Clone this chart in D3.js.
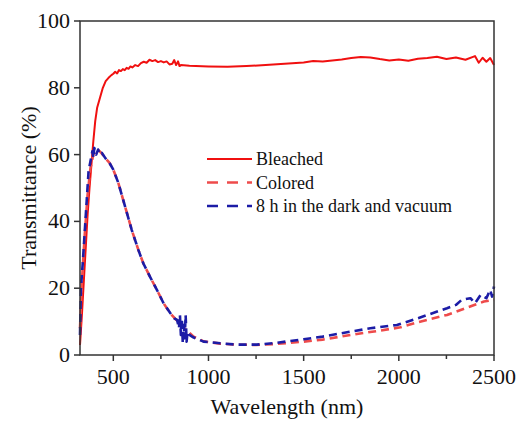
<!DOCTYPE html>
<html>
<head>
<meta charset="UTF-8">
<script src="https://cdn.jsdelivr.net/npm/d3@7"></script>
</head>
<body style="margin:0">
<script>
// wavelength (nm) / transmittance (%)
var bleachedW = [325,335,345,355,365,375,385,395,405,415,430,445,460,475,490,500,510,520,530,540,550,560,570,580,590,600,615,630,645,660,675,690,705,720,735,750,765,780,795,810,820,830,840,848,855,900,1000,1100,1200,1300,1400,1500,1550,1600,1650,1700,1750,1800,1850,1900,1950,2000,2050,2100,2150,2200,2250,2300,2350,2400,2420,2440,2460,2480,2500];
var bleachedT = [3,12,22,32,42,50,57,64,70,74,77,80,82,83,83.8,84.2,84.8,84.3,85.3,85,85.6,85.3,86,85.7,86.4,86.1,86.8,86.5,87.4,87.8,87.5,88.4,88,88.3,87.7,88,87.6,87.9,87,87.2,88.3,86.8,87.9,86.5,86.8,86.6,86.4,86.3,86.5,86.8,87.2,87.6,88,87.9,88.2,88.5,88.9,89.2,89.1,88.6,88.2,88.5,88.1,88.7,88.9,89.3,88.6,89.1,88.4,89.5,87.5,89,87.8,88.9,86.8];

var coloredW = [325,335,350,365,380,395,410,425,440,460,480,500,527,562,597,632,658,693,729,764,799,834,869,922,974,1062,1150,1250,1350,1500,1600,1746,1900,2009,2100,2253,2350,2447,2500];
var coloredT = [8,22,36,48,56,60,61.5,61.2,60.3,58.8,57.5,55.5,51.4,44.4,37.4,31.4,27.4,23.4,19.5,15.5,12.5,10.3,8.2,5.5,4.1,3.4,3.1,3.0,3.3,4,4.6,6,7.3,8.3,9.8,12,14,16,16.5];

var darkW = [325,330,340,350,360,370,380,390,395,400,410,420,430,440,460,480,500,527,562,597,632,658,693,729,764,800,820,835,845,850,855,860,865,870,875,880,885,890,900,920,974,1062,1150,1254,1350,1500,1600,1746,1850,1990,2100,2253,2300,2330,2376,2400,2430,2460,2480,2490,2500];
var darkT = [6,20,28,37,46,55,58,61,59,62,60,61.5,60,60.5,58.8,57.5,55.5,51.4,44.4,37.4,31.4,27.4,23.4,19.5,15.5,12.5,11,10.5,8,12,6,11,3.5,9,5,12,4,7,6,5.3,4,3.5,3.1,3.1,3.6,4.7,5.5,7,8,9,11,14,15,16.5,17,15.5,18,17,19.5,17.5,20.5];

var xTicks = [500, 1000, 1500, 2000, 2500];
var xMinor = [750, 1250, 1750, 2250];
var yTicks = [0, 20, 40, 60, 80, 100];

var legendLabels = ["Bleached", "Colored", "8 h in the dark and vacuum"];

var w = 523, h = 424;
var margin = {left: 80, right: 29, top: 21, bottom: 69};
var font = "Liberation Serif";

var svg = d3.select("body").append("svg")
    .attr("width", w)
    .attr("height", h);

var x = d3.scaleLinear().domain([325, 2500]).range([margin.left, w - margin.right]);
var y = d3.scaleLinear().domain([0, 100]).range([h - margin.bottom, margin.top]);
var y0 = y(0);

function pairs(ws, ts) {
    return ws.map(function(d, i) { return [d, ts[i]]; });
}

var line = d3.line()
    .x(function(d) { return x(d[0]); })
    .y(function(d) { return y(d[1]); });

var series = [
    {name: legendLabels[0], data: pairs(bleachedW, bleachedT), color: "#f01010", width: 2, dash: null},
    {name: legendLabels[1], data: pairs(coloredW, coloredT), color: "#ee4b4b", width: 2.6, dash: "8,5"},
    {name: legendLabels[2], data: pairs(darkW, darkT), color: "#1c1ca6", width: 2.6, dash: "8,5"}
];

svg.selectAll("path.series")
    .data(series)
    .enter()
    .append("path")
    .attr("class", "series")
    .attr("d", function(d) { return line(d.data); })
    .attr("fill", "none")
    .attr("stroke", function(d) { return d.color; })
    .attr("stroke-width", function(d) { return d.width; })
    .attr("stroke-dasharray", function(d) { return d.dash; })
    .attr("stroke-linejoin", "round");

// frame
svg.append("rect")
    .attr("x", margin.left)
    .attr("y", margin.top)
    .attr("width", w - margin.left - margin.right)
    .attr("height", h - margin.top - margin.bottom)
    .attr("fill", "none")
    .attr("stroke", "#333")
    .attr("stroke-width", 1.5);

// ticks drawn by hand from the scales, labels as plain text
svg.selectAll("line.xmaj")
    .data(xTicks)
    .enter()
    .append("line")
    .attr("class", "xmaj")
    .attr("x1", x).attr("x2", x)
    .attr("y1", y0).attr("y2", y0 + 6)
    .attr("stroke", "#333").attr("stroke-width", 1.5);

svg.selectAll("line.xmin")
    .data(xMinor)
    .enter()
    .append("line")
    .attr("class", "xmin")
    .attr("x1", x).attr("x2", x)
    .attr("y1", y0).attr("y2", y0 + 4)
    .attr("stroke", "#333").attr("stroke-width", 1.5);

svg.selectAll("line.ytick")
    .data(yTicks)
    .enter()
    .append("line")
    .attr("class", "ytick")
    .attr("x1", margin.left - 6).attr("x2", margin.left)
    .attr("y1", y).attr("y2", y)
    .attr("stroke", "#333").attr("stroke-width", 1.5);

svg.selectAll("text.xlab")
    .data(xTicks)
    .enter()
    .append("text")
    .attr("class", "xlab")
    .attr("x", x)
    .attr("y", y0 + 29)
    .attr("text-anchor", "middle")
    .text(function(d) { return d; });

svg.selectAll("text.ylab")
    .data(yTicks)
    .enter()
    .append("text")
    .attr("class", "ylab")
    .attr("x", margin.left - 10)
    .attr("y", function(d) { return y(d) + 7; })
    .attr("text-anchor", "end")
    .text(function(d) { return d; });

svg.append("text")
    .attr("class", "title")
    .attr("x", (margin.left + w - margin.right) / 2)
    .attr("y", 414)
    .attr("text-anchor", "middle")
    .text("Wavelength (nm)");

svg.append("text")
    .attr("class", "title")
    .attr("transform", "translate(36," + ((margin.top + h - margin.bottom) / 2) + ") rotate(-90)")
    .attr("text-anchor", "middle")
    .text("Transmittance (%)");

// legend
var legend = svg.selectAll("g.legend")
    .data(series)
    .enter()
    .append("g")
    .attr("class", "legend")
    .attr("transform", function(d, i) { return "translate(207," + (159 + i * 23.5) + ")"; });

legend.append("line")
    .attr("x1", 0).attr("x2", 45)
    .attr("stroke", function(d) { return d.color; })
    .attr("stroke-width", function(d) { return d.width; })
    .attr("stroke-dasharray", function(d) { return d.dash ? "11,9" : null; });

legend.append("text")
    .attr("x", 49)
    .attr("y", 6)
    .style("font-size", "18px")
    .text(function(d) { return d.name; });

svg.selectAll("text")
    .attr("fill", "#111")
    .attr("font-family", font);
svg.selectAll("text.xlab, text.ylab, text.title").attr("font-size", 22);
</script>
</body>
</html>
